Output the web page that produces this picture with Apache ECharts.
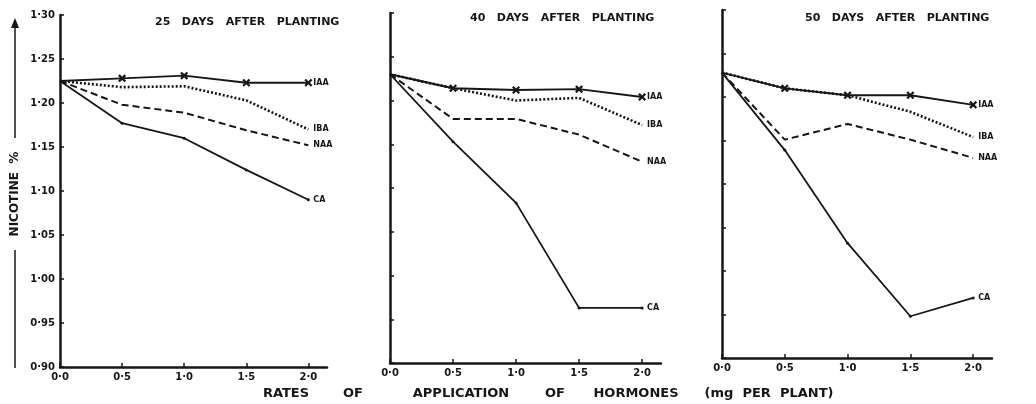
<!DOCTYPE html>
<html>
<head>
<meta charset="utf-8">
<script src="https://cdn.jsdelivr.net/npm/echarts@6/dist/echarts.min.js"></script>
<style>
  html, body { margin: 0; padding: 0; background: #fff; }
  #chart { width: 1036px; height: 404px; }
</style>
</head>
<body>
<div id="chart"></div>
<script>
// rates of application (mg per plant)
const rates = [0, 0.5, 1.0, 1.5, 2.0];
const rateLabels = ["0·0", "0·5", "1·0", "1·5", "2·0"];
const panelTitles = ["25   DAYS   AFTER   PLANTING", "40   DAYS   AFTER   PLANTING", "50   DAYS   AFTER   PLANTING"];
const hormones = ["IAA", "IBA", "NAA", "CA"];

// nicotine %
const iaa25 = [1.225, 1.228, 1.231, 1.223, 1.223];
const iba25 = [1.225, 1.218, 1.219, 1.203, 1.170];
const naa25 = [1.225, 1.198, 1.189, 1.169, 1.152];
const ca25  = [1.225, 1.177, 1.160, 1.124, 1.090];

const iaa40 = [1.230, 1.214, 1.212, 1.213, 1.204];
const iba40 = [1.230, 1.214, 1.200, 1.203, 1.172];
const naa40 = [1.230, 1.179, 1.179, 1.161, 1.130];
const ca40  = [1.230, 1.153, 1.083, 0.963, 0.963];

const iaa50 = [1.228, 1.210, 1.202, 1.202, 1.191];
const iba50 = [1.228, 1.210, 1.202, 1.183, 1.154];
const naa50 = [1.228, 1.151, 1.169, 1.151, 1.130];
const ca50  = [1.228, 1.139, 1.032, 0.948, 0.969];

const panels = [
  [iaa25, iba25, naa25, ca25],
  [iaa40, iba40, naa40, ca40],
  [iaa50, iba50, naa50, ca50]
];

const ink = "#161616";
const font = "DejaVu Sans";
const crossPath = "path://M2,0 L5,3 L8,0 L10,2 L7,5 L10,8 L8,10 L5,7 L2,10 L0,8 L3,5 L0,2 Z";

const lineStyles = {
  IAA: { width: 1.8, type: "solid" },
  IBA: { width: 2.6, type: [2, 2] },
  NAA: { width: 2, type: [7, 4] },
  CA:  { width: 1.8, type: "solid" }
};

const grids = [
  { left: 60, top: 15, width: 267, height: 352 },
  { left: 390, top: 13, width: 271, height: 350 },
  { left: 722, top: 10, width: 270, height: 348 }
];

const xAxes = grids.map((g, i) => ({
  type: "value", gridIndex: i, min: 0, max: 2.15, interval: 0.5,
  axisLine: { lineStyle: { color: ink, width: 2.5 } },
  axisTick: { inside: true, length: 4, lineStyle: { color: ink, width: 1.5 } },
  splitLine: { show: false },
  axisLabel: {
    color: ink, fontSize: 10, fontWeight: "bold", fontFamily: font, margin: 5,
    showMaxLabel: false,
    formatter: v => { const k = rates.indexOf(Math.round(v * 10) / 10); return k >= 0 ? rateLabels[k] : ""; }
  }
}));

const yAxes = grids.map((g, i) => ({
  type: "value", gridIndex: i, min: 0.9, max: 1.3, interval: 0.05,
  axisLine: { show: true, lineStyle: { color: ink, width: 2.5 } },
  axisTick: { show: true, inside: true, length: 4, lineStyle: { color: ink, width: 1.5 } },
  splitLine: { show: false },
  axisLabel: {
    show: i === 0, color: ink, fontSize: 10, fontWeight: "bold", fontFamily: font, margin: 5,
    formatter: v => v.toFixed(2).replace(".", "·")
  }
}));

const series = [];
panels.forEach((sets, p) => {
  sets.forEach((vals, h) => {
    const name = hormones[h];
    series.push({
      name: name + p,
      type: "line",
      xAxisIndex: p,
      yAxisIndex: p,
      data: rates.map((r, i) => (i === 0 ? { value: [r, vals[i]], symbol: "none" } : [r, vals[i]])),
      symbol: name === "IAA" ? crossPath : "circle",
      symbolSize: name === "IAA" ? 8 : (name === "CA" ? 3 : 0),
      showSymbol: name === "IAA" || name === "CA",
      itemStyle: { color: ink },
      lineStyle: Object.assign({ color: ink }, lineStyles[name]),
      endLabel: {
        show: true, formatter: name, color: ink, fontSize: 8, fontWeight: "bold",
        fontFamily: font, distance: 5
      },
      animation: false,
      z: 3
    });
  });
});

// x-axis caption words and their centres
const bottomWords = [
  ["RATES", 286], ["OF", 353], ["APPLICATION", 461], ["OF", 555], ["HORMONES", 636], ["(mg  PER  PLANT)", 769]
];

const chart = echarts.init(document.getElementById("chart"));
chart.setOption({
  backgroundColor: "#fff",
  animation: false,
  title: panelTitles.map((t, i) => ({
    text: t,
    left: [150, 465, 800][i],
    top: [12, 8, 8][i],
    textStyle: { color: ink, fontSize: 11, fontWeight: "bold", fontFamily: font }
  })),
  grid: grids,
  xAxis: xAxes,
  yAxis: yAxes,
  series: series,
  graphic: [
    { type: "line", shape: { x1: 15, y1: 22, x2: 15, y2: 138 }, style: { stroke: ink, lineWidth: 1.5 } },
    { type: "polygon", shape: { points: [[11, 28], [15, 18], [19, 28]] }, style: { fill: ink } },
    { type: "line", shape: { x1: 15, y1: 250, x2: 15, y2: 368 }, style: { stroke: ink, lineWidth: 1.5 } },
    {
      type: "text", x: 15, y: 194, rotation: Math.PI / 2,
      style: { text: "NICOTINE  %", fill: ink, font: "bold 12px " + font, align: "center", verticalAlign: "middle" }
    }
  ].concat(bottomWords.map(w => ({
    type: "text", x: w[1], y: 394,
    style: { text: w[0], fill: ink, font: "bold 13px " + font, align: "center", verticalAlign: "middle" }
  })))
});
</script>
</body>
</html>
